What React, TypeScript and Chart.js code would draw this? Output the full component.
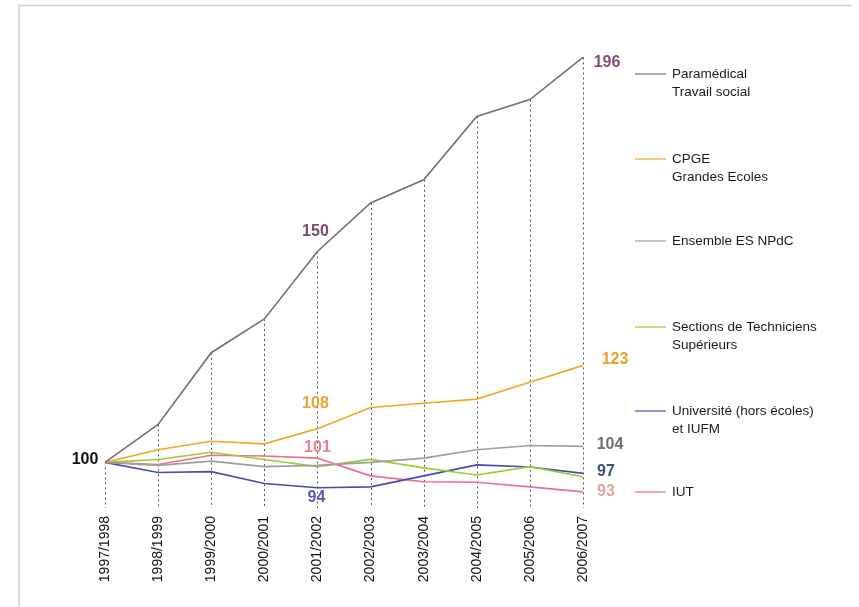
import React, { useEffect, useRef } from "react";
import { Chart, registerables } from "chart.js";

Chart.register(...registerables);

const years = ["1997/1998", "1998/1999", "1999/2000", "2000/2001", "2001/2002", "2002/2003", "2003/2004", "2004/2005", "2005/2006", "2006/2007"];
const paramedical = [100, 109, 126, 134, 150, 161.5, 167, 182, 186, 196];
const cpge = [100, 103, 105, 104.4, 108, 113, 114, 115, 119, 123];
const ensemble = [100, 99.3, 100.3, 99, 99.3, 100, 101, 103, 104, 103.8];
const sts = [100, 100.7, 102.4, 100.7, 99, 100.7, 98.7, 97, 99, 96.6];
const universite = [100, 97.6, 97.8, 95, 94, 94.2, 96.8, 99.4, 98.9, 97.4];
const iut = [100, 99.5, 101.7, 101.5, 101, 96.8, 95.4, 95.3, 94.2, 93];

const seriesNames = [
  ["Paramédical", "Travail social"],
  ["CPGE", "Grandes Ecoles"],
  ["Ensemble ES NPdC"],
  ["Sections de Techniciens", "Supérieurs"],
  ["Université (hors écoles)", "et IUFM"],
  ["IUT"],
];
const seriesColors = ["#7d6a7a", "#f5a623", "#9e9e9e", "#9acd32", "#4a4ab0", "#f06c8c"];
const legendY = [74, 159, 241, 327, 411, 492];

// value annotations: [series index, point index, text, color, dx, dy]
const annotations: [number, number, string, string, number, number][] = [
  [0, 0, "100", "#111111", -20, -3],
  [0, 4, "150", "#7a4a6e", -2, -20],
  [0, 9, "196", "#8a4a80", 24, 5],
  [1, 4, "108", "#f0a030", -2, -25],
  [1, 9, "123", "#e8a030", 32, -6],
  [5, 4, "101", "#ec7a90", 0, -11],
  [4, 4, "94", "#5a5ab0", -1, 10],
  [2, 9, "104", "#6e6e6e", 27, -2],
  [4, 9, "97", "#3d5070", 23, -2],
  [5, 9, "93", "#eba0a8", 23, 0],
];

const overlay = {
  id: "overlay",
  beforeDatasetsDraw(chart: any) {
    const ctx = chart.ctx;
    const meta = chart.getDatasetMeta(0);
    const bottom = chart.chartArea.bottom - 5;
    ctx.save();
    ctx.strokeStyle = "#555555";
    ctx.lineWidth = 1;
    ctx.setLineDash([2, 3]);
    meta.data.forEach((p: any) => {
      const x = Math.round(p.x) + 0.5;
      ctx.beginPath();
      ctx.moveTo(x, p.y);
      ctx.lineTo(x, bottom);
      ctx.stroke();
    });
    ctx.setLineDash([]);
    // frame
    ctx.strokeStyle = "#d0d0d0";
    ctx.lineWidth = 1.5;
    ctx.beginPath();
    ctx.moveTo(19, 607);
    ctx.lineTo(19, 5.5);
    ctx.lineTo(852, 5.5);
    ctx.stroke();
    ctx.restore();
  },
  afterDatasetsDraw(chart: any) {
    const ctx = chart.ctx;
    ctx.save();
    ctx.font = "bold 16px 'Liberation Sans', Arial, sans-serif";
    ctx.textAlign = "center";
    ctx.textBaseline = "middle";
    annotations.forEach(([s, i, txt, col, dx, dy]) => {
      const p = chart.getDatasetMeta(s).data[i];
      ctx.fillStyle = col;
      ctx.fillText(txt, p.x + dx, p.y + dy);
    });
    // legend
    ctx.font = "13.5px 'Liberation Sans', Arial, sans-serif";
    ctx.textAlign = "left";
    seriesNames.forEach((lines, k) => {
      const y = legendY[k];
      ctx.strokeStyle = seriesColors[k];
      ctx.lineWidth = 1.2;
      ctx.beginPath();
      ctx.moveTo(635, y);
      ctx.lineTo(666, y);
      ctx.stroke();
      ctx.fillStyle = "#1a1a1a";
      lines.forEach((ln, j) => ctx.fillText(ln, 672, y + j * 18));
    });
    ctx.restore();
  },
};

export default function App() {
  const ref = useRef<HTMLCanvasElement>(null);
  useEffect(() => {
    document.body.style.margin = "0";
    const data = [paramedical, cpge, ensemble, sts, universite, iut];
    const chart = new Chart(ref.current!, {
      type: "line",
      data: {
        labels: years,
        datasets: data.map((d, k) => ({
          label: seriesNames[k].join(" "),
          data: d,
          borderColor: seriesColors[k],
          borderWidth: 1.6,
          pointRadius: 0,
          tension: 0,
          fill: false,
        })),
      },
      options: {
        animation: false,
        responsive: false,
        devicePixelRatio: 1,
        layout: { padding: { left: 105, right: 276, top: 49, bottom: 4 } },
        plugins: { legend: { display: false }, tooltip: { enabled: false } },
        scales: {
          x: {
            offset: false,
            grid: { display: false },
            border: { display: false },
            ticks: {
              minRotation: 90,
              maxRotation: 90,
              padding: -5,
              color: "#111111",
              font: { size: 14, family: "'Liberation Sans', Arial, sans-serif" },
              autoSkip: false,
            },
            afterFit: (s: any) => {
              s.height = 90;
            },
          },
          y: { display: false, min: 88, max: 198 },
        },
      },
      plugins: [overlay],
    });
    return () => chart.destroy();
  }, []);
  return (
    <div style={{ width: 859, height: 607, background: "#fff" }}>
      <canvas ref={ref} width={859} height={607} />
    </div>
  );
}
